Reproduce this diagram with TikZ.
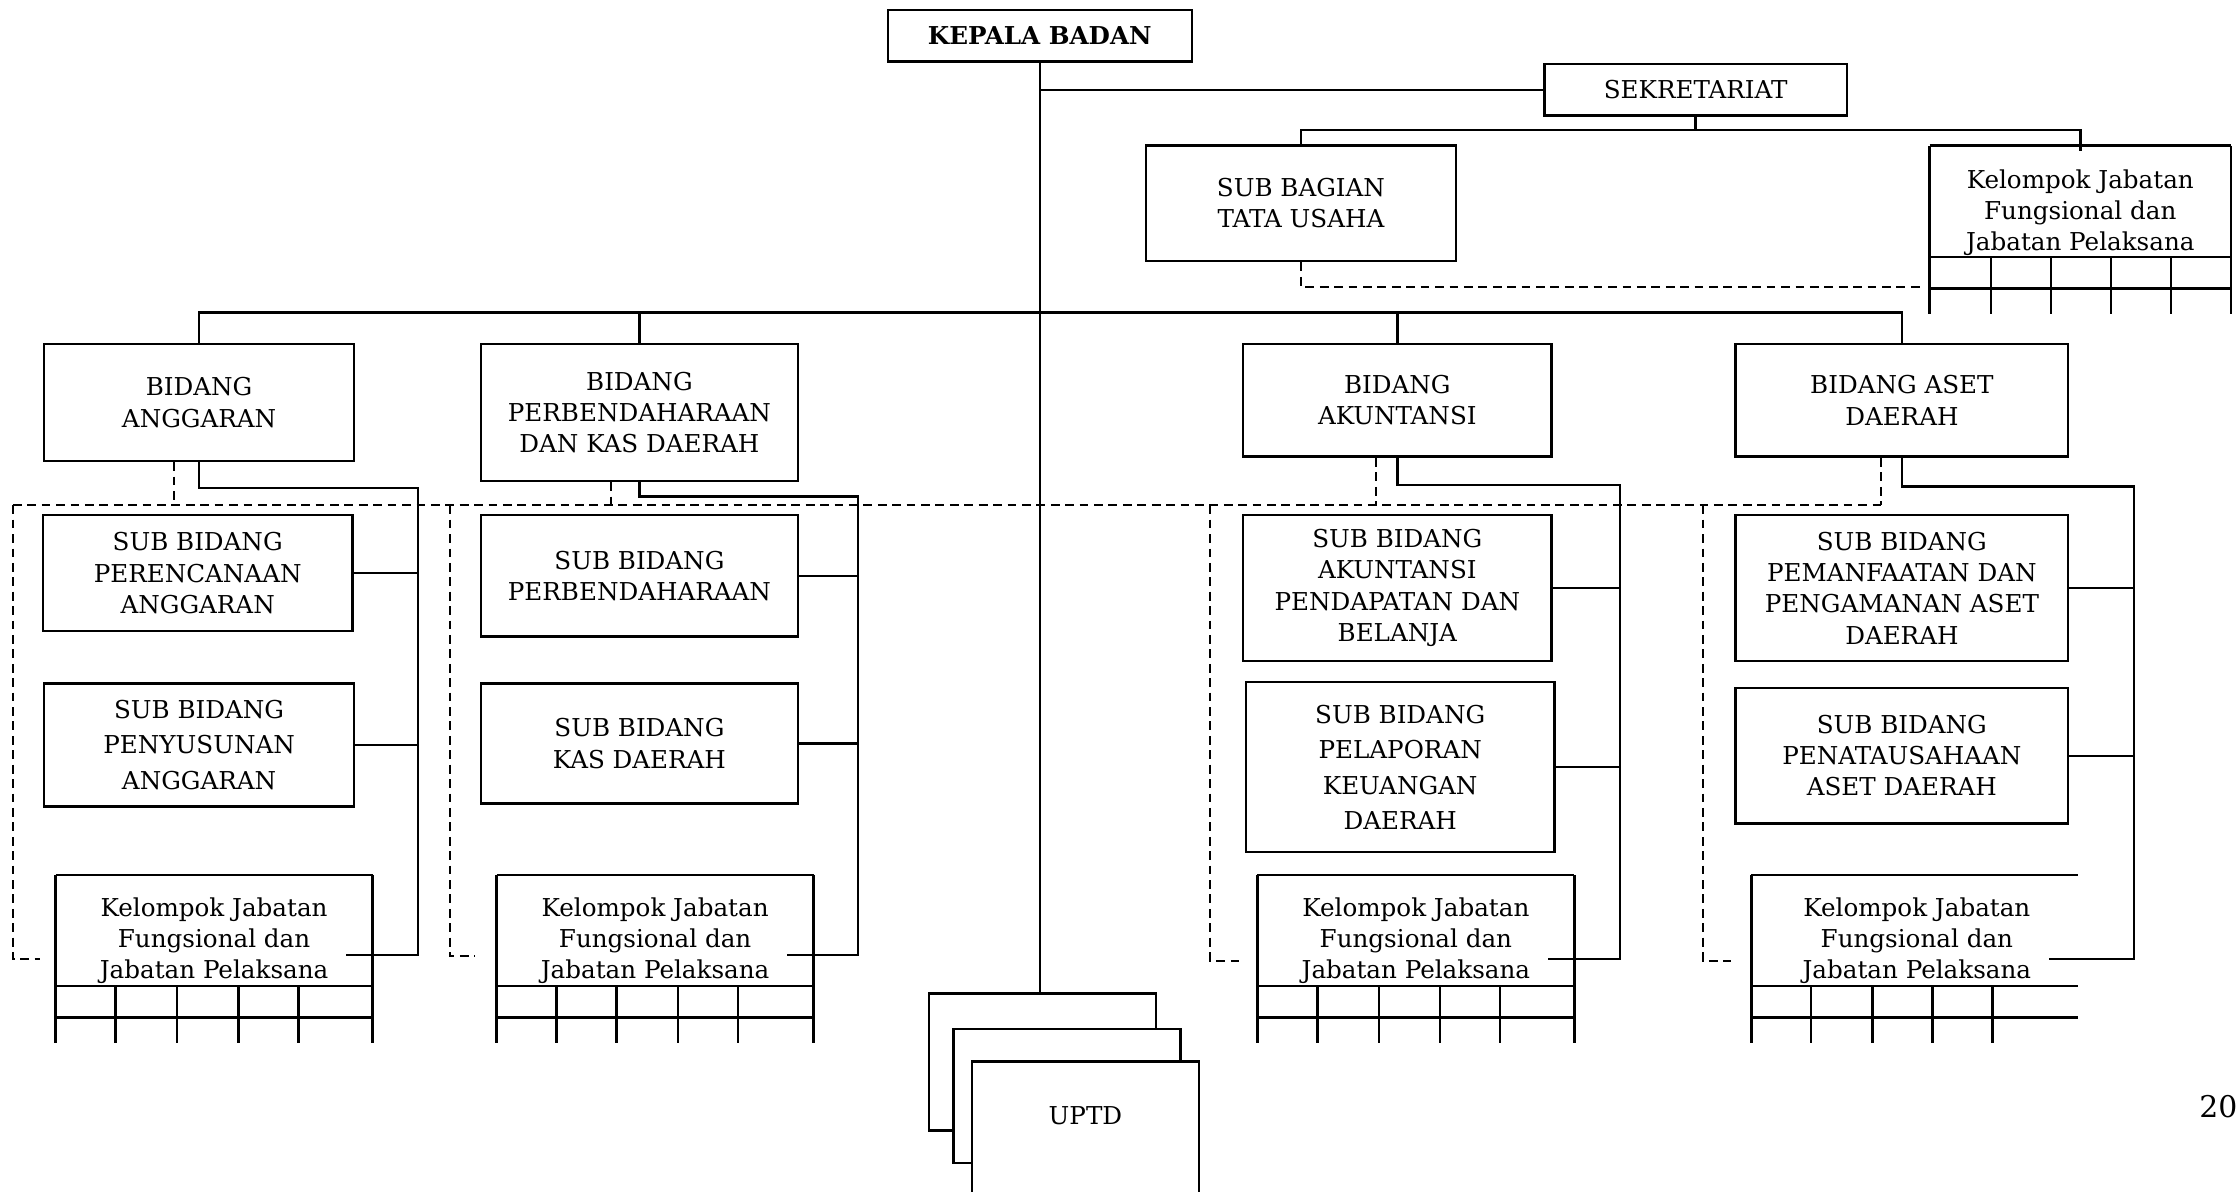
\documentclass[tikz,border=0pt]{standalone}
\usepackage{fontspec}
\setmainfont{DejaVu Serif}
\usepackage{tikz}
\usetikzlibrary{calc}

\newcommand{\ux}{0.014273cm}
% kotak kelompok jabatan dengan kisi di bawahnya
\newcommand{\jabgrid}[6]{%
  \draw[garis] (#1,#3) -- (#2,#3) (#1,#4) -- (#2,#4) (#1,#4+22) -- (#2,#4+22);
  \foreach \gx in {#5}{\draw[garis] (\gx,#3) -- (\gx,#4+40);}
  \foreach \gx in {#6}{\draw[garis] (\gx,#4) -- (\gx,#4+40);}
}

\tikzset{
  garis/.style={line width=0.7pt},
  putus/.style={line width=0.6pt, dash pattern=on 2.5pt off 1.6pt},
  kotak/.style={draw, line width=0.7pt, fill=white, align=center, inner sep=0pt,
    font=\fontsize{7}{8.9}\selectfont},
  ukuran/.style 2 args={minimum width=#1*\ux, minimum height=#2*\ux},
  renggang/.style={font=\fontsize{7}{10.1}\selectfont},
  kelompok/.style={align=center, inner xsep=12*\ux, inner ysep=0pt,
    font=\fontsize{7}{8.9}\selectfont},
}

\begin{document}
\begin{tikzpicture}[x=0.014273cm, y=-0.014273cm]
\clip (0,0) rectangle (1568,835);

% pimpinan dan sekretariat
\node[kotak, ukuran={213}{36}, font=\fontsize{7}{8.9}\selectfont\bfseries] (kb) at (728.5,25) {KEPALA BADAN};
\node[kotak, ukuran={212}{36}] (sek) at (1188,63) {SEKRETARIAT};
\node[kotak, ukuran={217}{81}] (tu) at (911.5,142.5) {SUB BAGIAN\\TATA USAHA};
\node[kelompok] (kjs) at (1457.5,149) {Kelompok Jabatan\\Fungsional dan\\Jabatan Pelaksana};
\jabgrid{1352}{1563}{102}{180}{1352,1563}{1395,1437,1479,1521}

% bidang
\node[kotak, ukuran={217}{82}] (angg) at (139.5,282) {BIDANG\\ANGGARAN};
\node[kotak, ukuran={222}{96}] (perb) at (448,289) {BIDANG\\PERBENDAHARAAN\\DAN KAS DAERAH};
\node[kotak, ukuran={216}{79}] (akun) at (979,280.5) {BIDANG\\AKUNTANSI};
\node[kotak, ukuran={233}{79}] (aset) at (1332.5,280.5) {BIDANG ASET\\DAERAH};

% sub bidang
\node[kotak, ukuran={217}{81}] (spa) at (138.5,401.5) {SUB BIDANG\\PERENCANAAN\\ANGGARAN};
\node[kotak, renggang, ukuran={217}{86}] (spy) at (139.5,522) {SUB BIDANG\\PENYUSUNAN\\ANGGARAN};
\node[kotak, ukuran={222}{85}] (spb) at (448,403.5) {SUB BIDANG\\PERBENDAHARAAN};
\node[kotak, ukuran={222}{84}] (skd) at (448,521) {SUB BIDANG\\KAS DAERAH};
\node[kotak, ukuran={216}{102}] (sap) at (979,412) {SUB BIDANG\\AKUNTANSI\\PENDAPATAN DAN\\BELANJA};
\node[kotak, renggang, ukuran={216}{119}] (slk) at (981,537.5) {SUB BIDANG\\PELAPORAN\\KEUANGAN\\DAERAH};
\node[kotak, ukuran={233}{102}] (spm) at (1332.5,412) {SUB BIDANG\\PEMANFAATAN DAN\\PENGAMANAN ASET\\DAERAH};
\node[kotak, ukuran={233}{95}] (sps) at (1332.5,529.5) {SUB BIDANG\\PENATAUSAHAAN\\ASET DAERAH};

% kelompok jabatan fungsional
\node[kelompok] (k1) at (150,659) {Kelompok Jabatan\\Fungsional dan\\Jabatan Pelaksana};
\node[kelompok] (k2) at (459,659) {Kelompok Jabatan\\Fungsional dan\\Jabatan Pelaksana};
\node[kelompok] (k3) at (992,659) {Kelompok Jabatan\\Fungsional dan\\Jabatan Pelaksana};
\node[kelompok] (k4) at (1343,659) {Kelompok Jabatan\\Fungsional dan\\Jabatan Pelaksana};
\jabgrid{39}{261}{613}{691}{39,261}{81,124,167,209}
\jabgrid{348}{570}{613}{691}{348,570}{390,432,475,517}
\jabgrid{881}{1103}{613}{691}{881,1103}{923,966,1009,1051}
\jabgrid{1227}{1456}{613}{691}{1227}{1269,1312,1354,1396}

% UPTD
\node[kotak, ukuran={159}{96}] (u1) at (730.5,744) {};
\node[kotak, ukuran={159}{94}] (u2) at (747.5,768) {};
\node[kotak, minimum width=159*\ux, text height=44*\ux, text depth=73*\ux, anchor=north] (u3) at (760.5,743) {UPTD};

\node[anchor=east, inner sep=0pt, font=\fontsize{8.5}{10}\selectfont] (hal) at (1568,775) {20};

% garis komando
\coordinate (js) at (1188,91);
\coordinate (kjt) at (1457.5,106);
\coordinate (dtu) at (1348,201);
\coordinate (bar) at (729,219);
\draw[garis] (kb.south) -- (kb.south |- u1.north);
\draw[garis] (sek.west) -- (sek.west -| kb.south);
\draw[garis] (sek.south) -- (js);
\draw[garis] (tu.north) |- (js) -| (kjt);
\draw[putus] (tu.south) |- (dtu);
\draw[garis] (angg.north) |- (bar) -| (aset.north);
\draw[garis] (perb.north) -- (perb.north |- bar);
\draw[garis] (akun.north) -- (akun.north |- bar);

\coordinate (ra1) at (293,342);  \coordinate (rb1) at (293,669);
\coordinate (ra2) at (601,348);  \coordinate (rb2) at (601,669);
\coordinate (ra3) at (1135,340); \coordinate (rb3) at (1135,672);
\coordinate (ra4) at (1495,341); \coordinate (rb4) at (1495,672);
\coordinate (dd1) at (122,354);  \coordinate (dv1) at (9,354);    \coordinate (dk1) at (28,672);
\coordinate (dd2) at (428,354);  \coordinate (dv2) at (315,354);  \coordinate (dk2) at (333,670);
\coordinate (dd3) at (964,354);  \coordinate (dv3) at (848,354);  \coordinate (dk3) at (868,673);
\coordinate (dd4) at (1318,354); \coordinate (dv4) at (1193,354); \coordinate (dk4) at (1213,673);

\draw[putus] (dv1) -- (dd4);
\foreach \b/\s/\t/\n in {angg/spa/spy/1, perb/spb/skd/2, akun/sap/slk/3, aset/spm/sps/4}{
  \draw[garis] (\b.south) |- (ra\n) -- (rb\n) -- (rb\n -| k\n.east);
  \draw[garis] (\s.east) -- (\s.east -| ra\n) (\t.east) -- (\t.east -| ra\n);
  \draw[putus] (\b.south -| dd\n) -- (dd\n);
  \draw[putus] (dv\n) |- (dk\n);
}
\end{tikzpicture}
\end{document}
